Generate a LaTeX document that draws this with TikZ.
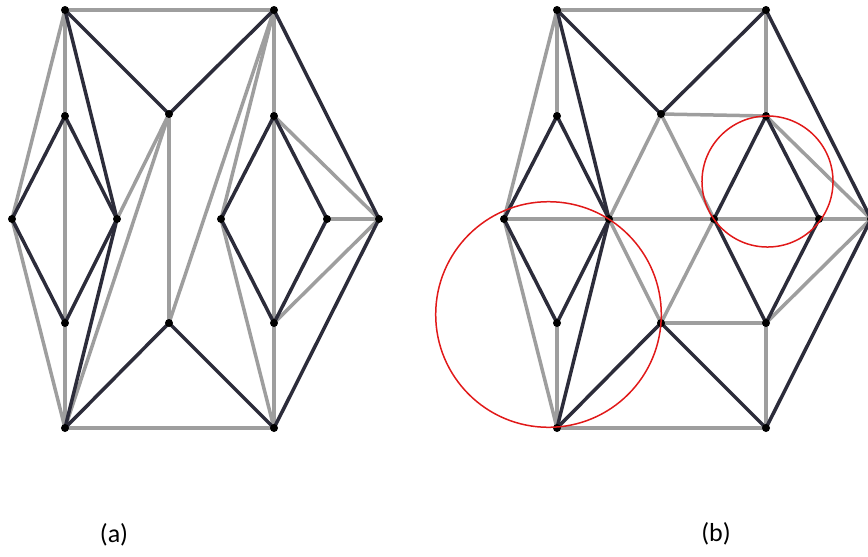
\documentclass[tikz,border=0pt]{standalone}
\usepackage{fontspec}
\setmainfont{Carlito}
\usetikzlibrary{through}
\definecolor{darkedge}{RGB}{44,44,58}
\definecolor{grayedge}{RGB}{158,158,158}
\definecolor{circred}{RGB}{225,25,25}
\begin{document}
\begin{tikzpicture}[x=1pt,y=-1pt,
  vdot/.style={circle,fill=black,inner sep=0pt,minimum size=8pt},
  ge/.style={draw=grayedge,line width=3.5pt},
  de/.style={draw=darkedge,line width=3.5pt},
  redc/.style={draw=circred,line width=1.5pt,inner sep=0pt,outer sep=0pt},
  lab/.style={font=\fontsize{26}{30}\selectfont,inner sep=0pt}]
\useasboundingbox (0,0) rectangle (868,557);
\foreach \n/\x/\y in {TL/65/10,TR/274/10,LT/65/116,L/12/219,LR/117/219,LB/65/323,BL/65/428,CT/169/114,CB/169/323,RT/274/116,RL/221/219,RR/327/219,RB/274/323,FR/379/219,BR/274/428}
  \coordinate (a\n) at (\x,\y);
\foreach \n/\x/\y in {TL/557/10,TR/766/10,LT/557/116,L/504/219,LR/609/219,LB/557/323,BL/557/428,CT/661/114,CB/661/323,RT/766/116,RL/714/219,RR/819/219,RB/766/323,FR/871/219,BR/766/428}
  \coordinate (b\n) at (\x,\y);
% gray edges (a)
\foreach \u/\v in {TL/TR,TL/L,TL/LT,LT/LB,LB/BL,L/BL,BL/BR,CT/LR,CT/BL,CT/CB,CB/TR,RL/TR,TR/RT,RT/RB,RB/BR,RT/FR,RR/FR,RB/FR,RL/BR}
  \path[ge,line cap=round] (a\u) -- (a\v);
% dark edges (a)
\foreach \u/\v in {TL/CT,CT/TR,TL/LR,LT/L,LT/LR,L/LB,LR/LB,LR/BL,BL/CB,CB/BR,TR/FR,FR/BR,RT/RL,RT/RR,RL/RB,RR/RB}
  \path[de,line cap=round] (a\u) -- (a\v);
% gray edges (b)
\foreach \u/\v in {TL/TR,TL/L,TL/LT,L/LR,LR/RL,RL/RR,RR/FR,L/BL,LB/BL,BL/BR,CT/RT,CT/LR,CT/RL,LR/CB,CB/RL,CB/RB,TR/RT,RB/BR,RT/FR,RB/FR}
  \path[ge,line cap=round] (b\u) -- (b\v);
% dark edges (b)
\foreach \u/\v in {TL/CT,CT/TR,TL/LR,LT/L,LT/LR,L/LB,LR/LB,LR/BL,BL/CB,CB/BR,TR/FR,FR/BR,RT/RL,RT/RR,RL/RB,RR/RB}
  \path[de,line cap=round] (b\u) -- (b\v);
% vertices
\foreach \p in {a,b}{
  \foreach \n in {TL,TR,LT,L,LR,LB,BL,CT,CB,RT,RL,RR,RB,FR,BR}
    \node[vdot] (d\p\n) at (\p\n) {};
}
% red circles
\node[redc,circle through=(bLR)] (bigc) at (548.5,314.5) {};
\node[redc,circle through=(bRT)] (smallc) at (767.5,181.5) {};
% labels
\node[lab] (la) at (114,535) {(a)};
\node[lab] (lb) at (716,534) {(b)};
\end{tikzpicture}
\end{document}
